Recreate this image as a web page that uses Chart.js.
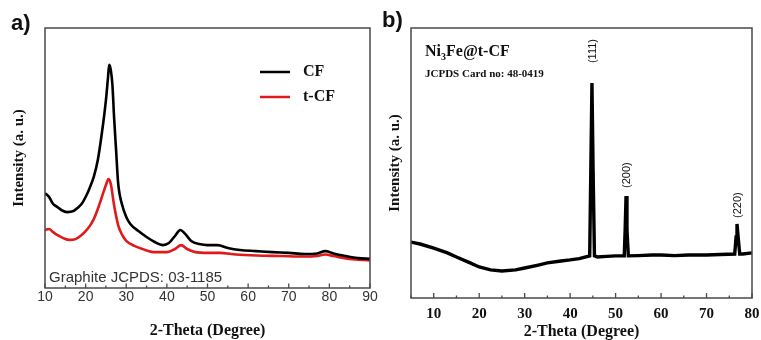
<!DOCTYPE html>
<html>
<head>
<meta charset="utf-8">
<script src="https://cdn.jsdelivr.net/npm/chart.js@4.4.1/dist/chart.umd.min.js"></script>
<style>
  html, body { margin:0; padding:0; background:#fff; }
  #wrap { position:relative; width:761px; height:340px; overflow:hidden; background:#fff; }
  canvas { position:absolute; top:0; }
  #ca { left:0; }
  #cb { left:380px; }
</style>
</head>
<body>
<div id="wrap">
  <canvas id="ca" width="380" height="340"></canvas>
  <canvas id="cb" width="381" height="340"></canvas>
</div>
<script>
// ---------- Panel a) data: 2-Theta (deg) and intensity (a.u.) ----------
const cfTheta = [10,11,12,13,14,15.5,17,18,19,20,21,22,23,24,25,25.5,25.8,26.2,26.6,27,27.5,28,29,30,31,33,35,37,39,40.5,42,43.3,44.5,46,48,50,52.5,55,58,62,66,70,74,77,79,81,84,87,90];
const cfInt   = [36.5,35,32.3,31.2,30,29.2,29.6,30.8,32.3,35,38.5,42.7,49.2,59.6,72.3,80.8,85.8,83.8,78,65.8,53,40.4,31.9,27.3,24.6,21.9,19.6,17.7,16.5,17.3,20,22.3,20.8,18.1,16.9,16.5,16.5,15.4,14.6,14.2,13.8,13.5,13.1,13.3,14.2,13.3,12.3,11.5,11.2];
const tcfTheta = [10,11,12,13,14.5,16,17.5,19,20,21,22,23,24,25,25.6,26.2,27,28,29,30,32,34,37,40,42,43.5,45,47,50,53,57,62,68,74,77,79,81,85,90];
const tcfInt   = [22.3,22.7,21.5,20.4,19.2,18.5,18.8,20.4,21.9,23.8,26.5,30.4,35,39.6,41.9,40,31.9,24.2,20.4,18.1,16.2,15,13.8,13.8,15,16.5,15,13.8,13.5,13.5,12.9,12.5,12.3,12.1,12.3,12.9,12.3,11.2,10.6];
const seriesNamesA = ['CF', 't-CF'];
const xTicksA = [10,20,30,40,50,60,70,80,90];

// ---------- Panel b) data ----------
const nfTheta = [5,7,10,13,15,18,20,22.5,25,28,30,33,35,38,40,42,44.3,44.55,44.8,45.05,45.35,46,48,50,51.9,52.1,52.3,52.5,52.8,55,58,60,63,66,70,73,76.2,76.5,76.7,76.95,77.3,78,80];
const nfInt   = [20.7,20,18.5,16.7,15.2,13,11.5,10.4,10,10.4,11.1,12.2,13,13.7,14.1,14.6,15.6,47.4,79.6,47.4,15.6,15.2,15.4,15.6,15.6,25.2,37.8,25.2,15.6,15.7,15.9,15.9,15.7,15.9,15.9,16.1,16.3,22.6,27.4,22.6,16.3,16.3,16.7];
const peakNames = ['(111)', '(200)', '(220)'];
const peakTheta = [44.8, 52.3, 76.7];
const xTicksB = [10,20,30,40,50,60,70,80];

const SERIF = '"Liberation Serif", "Times New Roman", serif';
const SANS = '"Liberation Sans", Arial, sans-serif';

function pts(xs, ys) { return xs.map((x, i) => ({ x: x, y: ys[i] })); }

function drawFrameAndTicks(chart, from, to, step, majorEvery, majorLen, minorLen) {
  const ctx = chart.ctx, ca = chart.chartArea, xs = chart.scales.x;
  ctx.save();
  ctx.strokeStyle = '#4a4a4a';
  ctx.lineWidth = 1.5;
  ctx.strokeRect(ca.left, ca.top, ca.right - ca.left, ca.bottom - ca.top);
  ctx.lineWidth = 1.3;
  for (let v = from; v <= to + 1e-9; v += step) {
    const px = xs.getPixelForValue(v);
    const major = Math.abs(v / majorEvery - Math.round(v / majorEvery)) < 1e-6;
    const len = major ? majorLen : minorLen;
    ctx.beginPath();
    ctx.moveTo(px, ca.bottom);
    ctx.lineTo(px, ca.bottom - len);
    ctx.stroke();
  }
  ctx.restore();
}

// ---------- Chart a ----------
const decoA = {
  id: 'decoA',
  afterDraw(chart) {
    const ctx = chart.ctx;
    drawFrameAndTicks(chart, 10, 90, 5, 10, 4.5, 2.5);
    ctx.save();
    ctx.fillStyle = '#111';
    ctx.font = 'bold 22px ' + SANS;
    ctx.textAlign = 'left';
    ctx.textBaseline = 'middle';
    ctx.fillText('a)', 11, 24);
    chart.data.datasets.forEach((ds, i) => {
      const y = 72 + i * 25;
      ctx.strokeStyle = ds.borderColor;
      ctx.lineWidth = 2.5;
      ctx.beginPath();
      ctx.moveTo(260, y);
      ctx.lineTo(290, y);
      ctx.stroke();
      ctx.fillStyle = '#111';
      ctx.font = 'bold 16px ' + SERIF;
      ctx.fillText(ds.label, 303, y);
    });
    ctx.fillStyle = '#333';
    ctx.font = '15px ' + SANS;
    ctx.fillText('Graphite JCPDS: 03-1185', 49, 278);
    ctx.restore();
  }
};

new Chart(document.getElementById('ca'), {
  type: 'line',
  data: {
    datasets: [
      { label: seriesNamesA[0], data: pts(cfTheta, cfInt), borderColor: '#000000', borderWidth: 2.6, pointRadius: 0, cubicInterpolationMode: 'monotone', fill: false },
      { label: seriesNamesA[1], data: pts(tcfTheta, tcfInt), borderColor: '#e0191b', borderWidth: 2.6, pointRadius: 0, cubicInterpolationMode: 'monotone', fill: false }
    ]
  },
  options: {
    responsive: false,
    animation: false,
    events: [],
    layout: { padding: { top: 28, right: 10, left: 0, bottom: 0 } },
    plugins: { legend: { display: false }, tooltip: { enabled: false } },
    scales: {
      x: {
        type: 'linear', min: 10, max: 90,
        afterBuildTicks(s) { s.ticks = xTicksA.map(v => ({ value: v })); },
        ticks: { padding: 1, color: '#333', font: { family: SANS, size: 14 }, maxRotation: 0, autoSkip: false },
        grid: { display: false, drawTicks: false },
        border: { display: false },
        title: { display: true, text: '2-Theta (Degree)', color: '#111', font: { family: SERIF, weight: 'bold', size: 16, lineHeight: 1 }, padding: { top: 0, bottom: 1 } },
        afterFit(s) { s.height = 52; s.paddingLeft = 0; s.paddingRight = 0; }
      },
      y: {
        min: 0, max: 100,
        ticks: { display: false },
        grid: { display: false, drawTicks: false },
        border: { display: false },
        title: { display: true, text: 'Intensity (a. u.)', color: '#111', font: { family: SERIF, weight: 'bold', size: 15, lineHeight: 1 }, padding: { top: 12, bottom: 0 } },
        afterFit(s) { s.width = 45; }
      }
    }
  },
  plugins: [decoA]
});

// ---------- Chart b ----------
const decoB = {
  id: 'decoB',
  afterDraw(chart) {
    const ctx = chart.ctx, xs = chart.scales.x, ys = chart.scales.y;
    drawFrameAndTicks(chart, 5, 80, 5, 10, 5, 2.5);
    ctx.save();
    ctx.fillStyle = '#111';
    ctx.font = 'bold 22px ' + SANS;
    ctx.textAlign = 'left';
    ctx.textBaseline = 'middle';
    ctx.fillText('b)', 2, 21);
    ctx.textBaseline = 'alphabetic';
    ctx.font = 'bold 16px ' + SERIF;
    let x = 45;
    ctx.fillText('Ni', x, 56); x += ctx.measureText('Ni').width;
    ctx.font = 'bold 10px ' + SERIF;
    ctx.fillText('3', x, 60); x += ctx.measureText('3').width;
    ctx.font = 'bold 16px ' + SERIF;
    ctx.fillText('Fe@t-CF', x, 56);
    ctx.font = 'bold 11px ' + SERIF;
    ctx.fillText('JCPDS Card no: 48-0419', 45, 77);
    const gaps = [20, 8, 6];
    ctx.font = '11px ' + SANS;
    ctx.textAlign = 'left';
    ctx.textBaseline = 'middle';
    peakNames.forEach((name, i) => {
      let top = 0;
      nfTheta.forEach((t, j) => { if (Math.abs(t - peakTheta[i]) < 0.6) top = Math.max(top, nfInt[j]); });
      const px = xs.getPixelForValue(peakTheta[i]);
      const py = ys.getPixelForValue(top) - gaps[i];
      ctx.save();
      ctx.translate(px + 1, py);
      ctx.rotate(-Math.PI / 2);
      ctx.fillText(name, 0, 0);
      ctx.restore();
    });
    ctx.restore();
  }
};

new Chart(document.getElementById('cb'), {
  type: 'line',
  data: {
    datasets: [
      { label: 'Ni3Fe@t-CF', data: pts(nfTheta, nfInt), borderColor: '#000000', borderWidth: 3.4, pointRadius: 0, tension: 0, fill: false }
    ]
  },
  options: {
    responsive: false,
    animation: false,
    events: [],
    layout: { padding: { top: 28, right: 9, left: 0, bottom: 0 } },
    plugins: { legend: { display: false }, tooltip: { enabled: false } },
    scales: {
      x: {
        type: 'linear', min: 5, max: 80,
        afterBuildTicks(s) { s.ticks = xTicksB.map(v => ({ value: v })); },
        ticks: { padding: 7, color: '#111', font: { family: SERIF, weight: 'bold', size: 15 }, maxRotation: 0, autoSkip: false },
        grid: { display: false, drawTicks: false },
        border: { display: false },
        title: { display: true, text: '2-Theta (Degree)', color: '#111', font: { family: SERIF, weight: 'bold', size: 16, lineHeight: 1 }, padding: { top: 0, bottom: 0 } },
        afterFit(s) { s.height = 42; s.paddingLeft = 0; s.paddingRight = 0; }
      },
      y: {
        min: 0, max: 100,
        ticks: { display: false },
        grid: { display: false, drawTicks: false },
        border: { display: false },
        title: { display: true, text: 'Intensity (a. u.)', color: '#111', font: { family: SERIF, weight: 'bold', size: 15, lineHeight: 1 }, padding: { top: 8, bottom: 0 } },
        afterFit(s) { s.width = 31; }
      }
    }
  },
  plugins: [decoB]
});
</script>
</body>
</html>
